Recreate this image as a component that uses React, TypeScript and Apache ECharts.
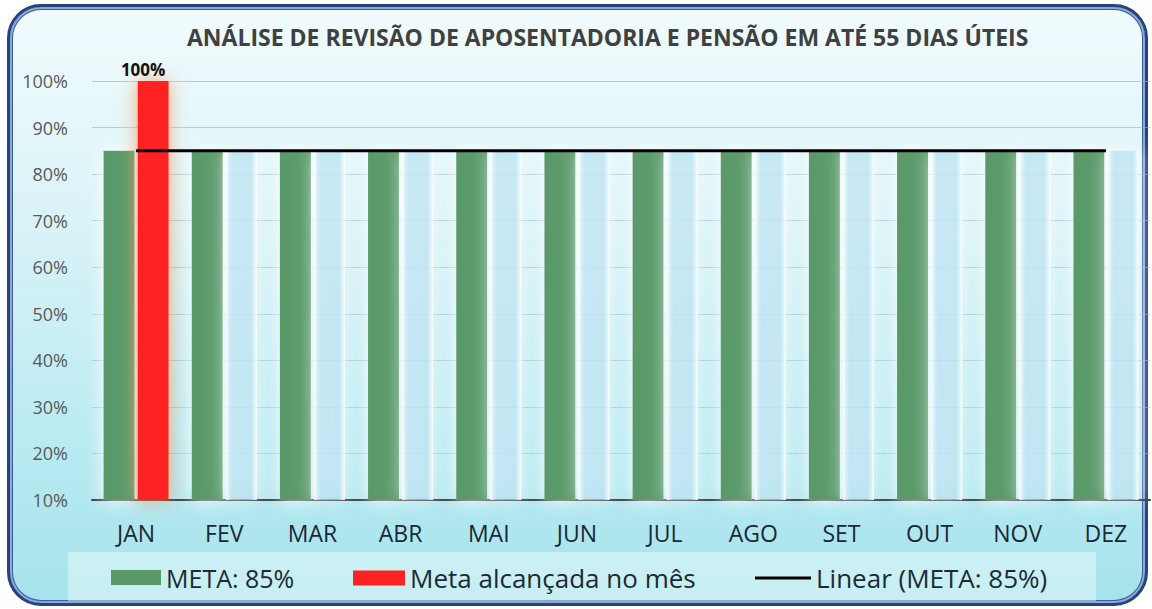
import React, { useEffect, useRef } from "react";
import * as echarts from "echarts";

const months = ["JAN", "FEV", "MAR", "ABR", "MAI", "JUN", "JUL", "AGO", "SET", "OUT", "NOV", "DEZ"];
const metaValues = [85, 85, 85, 85, 85, 85, 85, 85, 85, 85, 85, 85];
const achievedValues = [100, 85, 85, 85, 85, 85, 85, 85, 85, 85, 85, 85];
const trendValues = [85, 85, 85, 85, 85, 85, 85, 85, 85, 85, 85, 85];
const yTicks = { min: 10, max: 100, interval: 10 };

const FONT = "'Open Sans', Lato, sans-serif";

export default function App() {
  const ref = useRef<HTMLDivElement>(null);
  useEffect(() => {
    if (!ref.current) return;
    const chart = echarts.init(ref.current, undefined, { renderer: "svg" });
    const slotFill = new echarts.graphic.LinearGradient(0, 0, 1, 0, [
      { offset: 0, color: "rgba(255,255,255,1)" },
      { offset: 0.22, color: "rgba(165,218,238,0.6)" },
      { offset: 0.78, color: "rgba(165,218,238,0.6)" },
      { offset: 1, color: "rgba(255,255,255,1)" },
    ]);
    const achievedData = achievedValues.map((v, i) =>
      i === 0
        ? {
            value: v,
            itemStyle: { color: "#ff2222", shadowBlur: 18, shadowColor: "rgba(255,165,110,0.95)" },
            label: { show: true },
          }
        : {
            value: v,
            itemStyle: {
              color: slotFill,
              shadowBlur: 18,
              shadowColor: "rgba(255,255,255,1)",
            },
            label: { show: false },
          }
    );
    chart.setOption({
      animation: false,
      backgroundColor: "transparent",
      textStyle: { fontFamily: FONT },
      title: {
        text: "ANÁLISE DE REVISÃO DE APOSENTADORIA E PENSÃO EM ATÉ 55 DIAS ÚTEIS",
        left: 182,
        top: 20,
        textStyle: { fontFamily: FONT, fontSize: 23, fontWeight: "bold", color: "#404040" },
      },
      graphic: [
        {
          type: "rect",
          shape: { x: 68, y: 552, width: 1028, height: 49 },
          style: { fill: "rgba(240,252,253,0.45)" },
          z: -1,
        },
      ],
      legend: [
        {
          data: [{ name: "META: 85%", icon: "rect" }],
          left: 106,
          top: 560,
          itemWidth: 50,
          itemHeight: 15,
          textStyle: { fontFamily: FONT, fontSize: 25, color: "#1b2a35" },
        },
        {
          data: [{ name: "Meta alcançada no mês", icon: "rect" }],
          left: 348,
          top: 560,
          itemWidth: 52,
          itemHeight: 15,
          textStyle: { fontFamily: FONT, fontSize: 26, color: "#1b2a35" },
        },
        {
          data: [{ name: "Linear (META: 85%)", icon: "rect" }],
          left: 750,
          top: 560,
          itemWidth: 56,
          itemHeight: 3,
          textStyle: { fontFamily: FONT, fontSize: 26, color: "#1b2a35" },
        },
      ],
      grid: { left: 92, right: 2, top: 81, bottom: 109, containLabel: false },
      xAxis: {
        type: "category",
        data: months,
        axisLine: { lineStyle: { color: "#3a3a3a", width: 2 } },
        axisTick: { show: false },
        axisLabel: { fontFamily: FONT, fontSize: 23, color: "#1a2835", margin: 21 },
      },
      yAxis: {
        type: "value",
        min: yTicks.min,
        max: yTicks.max,
        interval: yTicks.interval,
        axisLine: { show: false },
        axisTick: { show: false },
        axisLabel: { formatter: "{value}%", fontFamily: FONT, fontSize: 18, color: "#595959", margin: 24 },
        splitLine: { lineStyle: { color: "rgba(140,180,198,0.6)", width: 1 } },
      },
      series: [
        {
          name: "META: 85%",
          type: "bar",
          data: metaValues,
          barWidth: 31,
          barGap: "10%",
          itemStyle: { color: "#5a9a6a", shadowBlur: 18, shadowColor: "rgba(255,255,255,1)" },
        },
        {
          name: "Meta alcançada no mês",
          type: "bar",
          data: achievedData,
          barWidth: 31,
          itemStyle: { color: "#ff2222" },
          label: {
            show: false,
            position: "top",
            formatter: "{c}%",
            fontFamily: FONT,
            fontSize: 17,
            fontWeight: "bold",
            color: "#111",
            distance: 3,
            offset: [-10, 0],
          },
        },
        {
          name: "Linear (META: 85%)",
          type: "line",
          data: trendValues,
          symbol: "none",
          lineStyle: { color: "#000", width: 3 },
          itemStyle: { color: "#000" },
          z: 5,
        },
      ],
    });
    return () => chart.dispose();
  }, []);

  return (
    <div style={{ position: "absolute", left: 0, top: 0, width: 1152, height: 609, overflow: "hidden" }}>
      <div
        style={{
          position: "absolute",
          left: 7,
          top: 4,
          width: 1141,
          height: 602,
          boxSizing: "border-box",
          borderRadius: 34,
          border: "3px solid #26437c",
          boxShadow: "inset 0 0 0 2px #8aa8da, inset 0 0 0 3px #3c5c98",
          background: "linear-gradient(to bottom, #f1fbfd 0%, #daf3f7 35%, #bcebf2 70%, #a6e3ec 100%)",
        }}
      />
      <div ref={ref} style={{ position: "absolute", left: 0, top: 0, width: 1152, height: 609 }} />
    </div>
  );
}
